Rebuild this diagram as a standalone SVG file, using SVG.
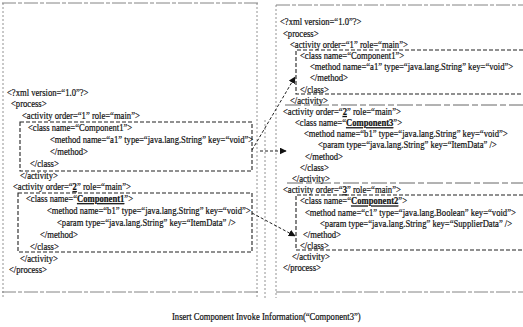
<svg xmlns="http://www.w3.org/2000/svg" width="523" height="327" viewBox="0 0 523 327">
  <defs>
    <marker id="head" viewBox="0 0 10 10" refX="9" refY="5" markerWidth="7" markerHeight="7" orient="auto" markerUnits="userSpaceOnUse">
      <path d="M0,0 L10,5 L0,10 Z" fill="#111"/>
    </marker>
    <style>
      text { font-family: "Liberation Serif", "Times New Roman", serif; font-size: 10.5px; fill: #111;
             stroke: #111; stroke-width: 0.22;
             transform: scaleX(0.82); transform-box: fill-box; transform-origin: 0 0; }
      .cap { font-size: 10px; transform: scaleX(0.86); }
      .hl { font-weight: bold; text-decoration: underline; }
      .frame { fill: none; stroke: #666; stroke-width: 0.8; stroke-dasharray: 14 2 4 2; }
      .side { fill: none; stroke: #777; stroke-width: 0.8; stroke-dasharray: 2 2; }
      .box { fill: none; stroke: #222; stroke-width: 1.1; stroke-dasharray: 4 2; }
      .sep { fill: none; stroke: #555; stroke-width: 0.9; stroke-dasharray: 16 3 6 3; }
      .link { fill: none; stroke: #222; stroke-width: 1; stroke-dasharray: 3 2; marker-end: url(#head); }
    </style>
  </defs>

  <!-- panel frames -->
  <g id="frames">
    <path class="frame" d="M2,3 H258 M2,292 H258"/>
    <path class="side" d="M3,3 V298 M257,3 V298"/>
    <path class="frame" d="M276,5 H523 M276,292 H523"/>
    <path class="side" d="M276,5 V298 M265,120 V300"/>
  </g>

  <!-- original process document -->
  <g id="source-doc">
    <text x="7" y="96">&lt;?xml version=“1.0”?&gt;</text>
    <text x="11" y="107">&lt;process&gt;</text>
    <text x="22" y="119">&lt;activity order=“1” role=“main”&gt;</text>
    <text x="28" y="131">&lt;class name=“Component1”&gt;</text>
    <text x="50" y="143">&lt;method name=“a1” type=“java.lang.String” key=“void”&gt;</text>
    <text x="50" y="155">&lt;/method&gt;</text>
    <text x="30" y="167">&lt;/class&gt;</text>
    <text x="20" y="179">&lt;/activity&gt;</text>
    <text x="13" y="190">&lt;activity order=“<tspan class="hl">2</tspan>” role=“main”&gt;</text>
    <text x="26" y="202">&lt;class name=“<tspan class="hl">Component1</tspan>”&gt;</text>
    <text x="47" y="214">&lt;method name=“b1” type=“java.lang.String” key=“void”&gt;</text>
    <text x="57" y="226">&lt;param type=“java.lang.String” key=“ItemData” /&gt;</text>
    <text x="40" y="238">&lt;/method&gt;</text>
    <text x="30" y="250">&lt;/class&gt;</text>
    <text x="20" y="262">&lt;/activity&gt;</text>
    <text x="9" y="273">&lt;/process&gt;</text>
  </g>

  <g id="source-class-a1">
    <rect class="box" x="20" y="122" width="232" height="49"/>
  </g>
  <g id="source-class-b1">
    <rect class="box" x="18" y="193" width="234" height="59"/>
  </g>

  <!-- resulting process document -->
  <g id="result-doc">
    <text x="280" y="25.5">&lt;?xml version=“1.0”?&gt;</text>
    <text x="283" y="36.7">&lt;process&gt;</text>
    <text x="290" y="47.9">&lt;activity order=“1” role=“main”&gt;</text>
    <text x="300" y="59">&lt;class name=“Component1”&gt;</text>
    <text x="310" y="70.2">&lt;method name=“a1” type=“java.lang.String” key=“void”&gt;</text>
    <text x="310" y="81.4">&lt;/method&gt;</text>
    <text x="300" y="92.6">&lt;/class&gt;</text>
    <text x="290" y="103.8">&lt;/activity&gt;</text>
    <text x="283" y="114.9">&lt;activity order=“<tspan class="hl">2</tspan>” role=“main”&gt;</text>
    <text x="295" y="126.1">&lt;class name=“<tspan class="hl">Component3</tspan>”&gt;</text>
    <text x="304" y="137.3">&lt;method name=“b1” type=“java.lang.String” key=“void”&gt;</text>
    <text x="318" y="148.5">&lt;param type=“java.lang.String” key=“ItemData” /&gt;</text>
    <text x="305" y="159.7">&lt;/method&gt;</text>
    <text x="300" y="170.8">&lt;/class&gt;</text>
    <text x="292" y="182">&lt;/activity&gt;</text>
    <text x="283" y="193.2">&lt;activity order=“<tspan class="hl">3</tspan>” role=“main”&gt;</text>
    <text x="300" y="204.4">&lt;class name=“<tspan class="hl">Component2</tspan>”&gt;</text>
    <text x="305" y="215.6">&lt;method name=“c1” type=“java.lang.Boolean” key=“void”&gt;</text>
    <text x="320" y="226.7">&lt;param type=“java.lang.String” key=“SupplierData” /&gt;</text>
    <text x="303" y="237.9">&lt;/method&gt;</text>
    <text x="300" y="249.1">&lt;/class&gt;</text>
    <text x="292" y="260.3">&lt;/activity&gt;</text>
    <text x="283" y="271.5">&lt;/process&gt;</text>
    <path class="sep" d="M285,105 H523 M287,183 H523"/>
  </g>

  <g id="result-class-a1">
    <path class="box" d="M523,50 H296 V94 H523"/>
  </g>
  <g id="result-class-c1">
    <path class="box" d="M523,195 H296 V250 H523"/>
  </g>

  <!-- connectors -->
  <g id="connectors">
    <path class="link" d="M252,150 L295,77"/>
    <path class="link" d="M260,151 L286,151"/>
    <path class="link" d="M252,213 L295,236"/>
  </g>

  <g id="caption">
    <text class="cap" x="172" y="320">Insert Component Invoke Information(“Component3”)</text>
  </g>
</svg>
